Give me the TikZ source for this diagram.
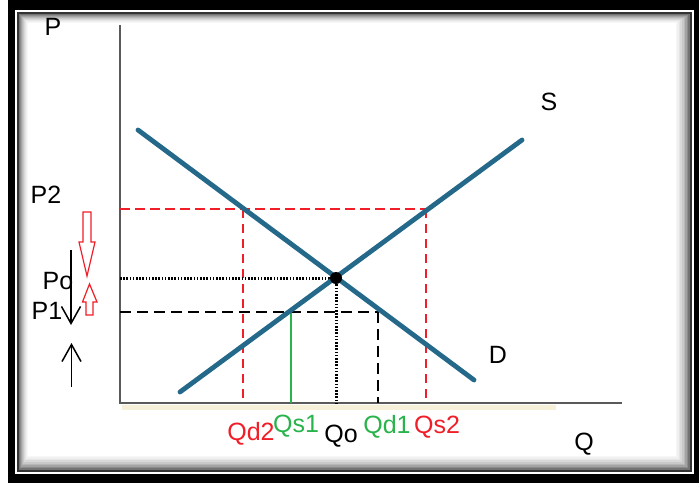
\documentclass[tikz,border=0pt]{standalone}
\usepackage{fontspec}
\setmainfont{Liberation Sans}
\usetikzlibrary{arrows.meta}
\definecolor{curve}{RGB}{36,104,138}
\definecolor{myred}{RGB}{240,30,40}
\definecolor{mygreen}{RGB}{40,180,75}
\definecolor{axisgray}{RGB}{90,90,90}
\definecolor{beige}{RGB}{245,240,215}
\tikzset{
  lbl/.style={font=\fontsize{25}{27}\selectfont, inner sep=0pt},
  curveline/.style={curve, line width=4.8pt, line cap=round},
  axisline/.style={axisgray, line width=2.2pt},
  reddash/.style={myred, line width=2.2pt, dash pattern=on 10pt off 5pt},
  redvert/.style={myred, line width=1.2pt, dash pattern=on 9pt off 6pt},
  blackdash/.style={black, line width=1.4pt, dash pattern=on 11pt off 6pt},
  dotline/.style={black, line width=3pt, dash pattern=on 1.6pt off 1.6pt},
  blockarrow/.style={myred, line width=1.2pt, fill=white},
  barb/.style={black, line width=1.5pt, -{Straight Barb[length=17pt,width=19pt,line width=1.5pt]}}
}
\begin{document}
\begin{tikzpicture}[x=1pt,y=-1pt]
\useasboundingbox (0,0) rectangle (699,485);
% frame
\fill[white] (0,0) rectangle (699,485);
\fill[black] (8,0) rectangle (699,483);
\fill[white] (15,10) rectangle (694,474);
\fill[black!80] (17,12) rectangle (692,472);
\foreach \i/\c in {0/55,1/45,2/36,3/28,4/21,5/15,6/10,7/6,8/3,9/0}{
  \fill[black!\c] ({19+\i},{14+\i}) rectangle ({690-1.6*\i},{470-1.6*\i});
}
% beige band under axis
\fill[beige] (122,405) rectangle (556,410);
% coordinates
\coordinate (top) at (120,25);
\coordinate (O) at (120,403);
\coordinate (qend) at (622,403);
\coordinate (d1) at (138,130);
\coordinate (d2) at (474,380);
\coordinate (s1) at (180,392);
\coordinate (s2) at (522,140);
\coordinate (E) at (336,278);
\coordinate (p2l) at (120,209);
\coordinate (p2d) at (243,209);
\coordinate (p2s) at (426,209);
\coordinate (qd2) at (243,403);
\coordinate (qs2) at (426,403);
\coordinate (p1l) at (120,312);
\coordinate (p1s) at (291,312);
\coordinate (p1d) at (378,312);
\coordinate (qs1) at (291,403);
\coordinate (qd1) at (378,403);
\coordinate (pol) at (120,278);
\coordinate (qo) at (336,403);
% axes
\draw[axisline] (top) -- (O) -- (qend);
% price lines
\draw[reddash] (p2l) -- (p2s);
\draw[redvert] (p2d) -- (qd2);
\draw[redvert] (p2s) -- (qs2);
\draw[blackdash] (p1l) -- (p1d);
\draw[blackdash] (p1d) -- (qd1);
\draw[mygreen, line width=1.3pt] (p1s) -- (qs1);
\draw[dotline] (pol) -- (E);
\draw[dotline] (E) -- (qo);
% curves
\draw[curveline] (d1) -- (d2);
\draw[curveline] (s1) -- (s2);
\fill[black] (E) circle (6pt);
\node[inner sep=0pt] (eq) at (E) {};
% arrows left
\draw[blockarrow] (83,212) -- (91,212) -- (91,242) -- (95,242) -- (87,276) -- (79,242) -- (83,242) -- cycle;
\draw[blockarrow] (86,315) -- (93,315) -- (93,302) -- (97,302) -- (89.5,284) -- (82.5,302) -- (86,302) -- cycle;
% labels
\node[lbl] (P) at (53,27) {P};
\node[lbl] (S) at (549,102) {S};
\node[lbl] (P2) at (46,195) {P2};
\node[lbl] (Po) at (58,281) {Po};
\node[lbl] (P1) at (47,311) {P1};
\node[lbl] (D) at (498,355) {D};
\node[lbl] (Q) at (584,444) {Q};
\node[lbl, text=myred] (Qd2) at (251,434) {Qd2};
\node[lbl, text=mygreen] (Qs1) at (296,426) {Qs1};
\node[lbl] (Qo) at (341,436) {Qo};
\node[lbl, text=mygreen] (Qd1) at (387,427) {Qd1};
\node[lbl, text=myred] (Qs2) at (437,427) {Qs2};
\coordinate (ad1) at (71,250);
\coordinate (ad2) at (71,325);
\coordinate (au1) at (71.5,387);
\coordinate (au2) at (71.5,343);
\draw[barb] (ad1) -- (ad2);
\draw[barb] (au1) -- (au2);
\end{tikzpicture}
\end{document}
